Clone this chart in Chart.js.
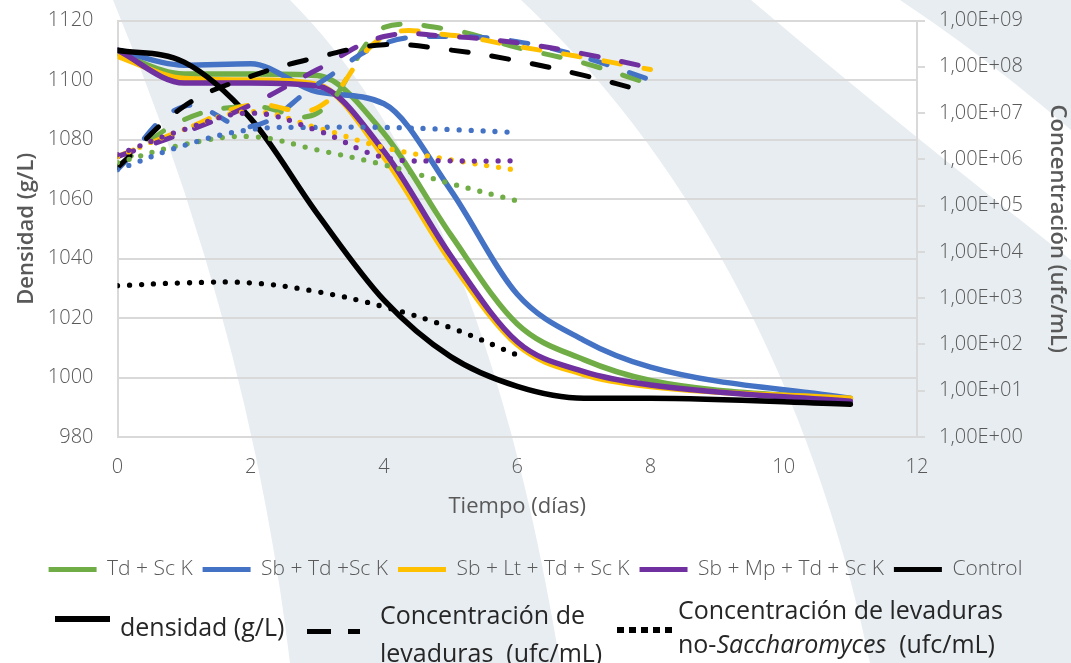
<!DOCTYPE html>
<html>
<head>
<meta charset="utf-8">
<script src="https://cdn.jsdelivr.net/npm/chart.js@4.4.1/dist/chart.umd.min.js"></script>
<style>
html,body{margin:0;padding:0;background:#fff;}
#wrap{position:relative;width:1071px;height:663px;overflow:hidden;}
#bg,#c{position:absolute;left:0;top:0;}
.t2{position:absolute;font-family:"Open Sans",sans-serif;font-weight:400;font-size:25px;line-height:25px;color:#262626;white-space:pre;}
.sw{position:absolute;background:#000;}
</style>
</head>
<body>
<div id="wrap">
<svg id="bg" width="1071" height="663">
  <path d="M113,0 L290,0 C400,110 500,300 560,663 L290,663 Q250,330 113,0 Z" fill="#e8edf1"/>
  <path d="M521,0 L751,0 Q880,110 1071,260 L1071,663 L870,663 C800,330 650,120 521,0 Z" fill="#e8edf1"/>
  <path d="M900,0 L1071,0 L1071,130 Q990,60 900,0 Z" fill="#e8edf1"/>
</svg>
<canvas id="c" width="1071" height="663"></canvas>
<div class="sw" style="left:55px;top:616px;width:55px;height:6px;"></div>
<div class="t2" style="left:120px;top:614px;">densidad (g/L)</div>
<div class="sw" style="left:307px;top:629px;width:24px;height:5px;"></div>
<div class="sw" style="left:348px;top:629px;width:12px;height:5px;"></div>
<div class="t2" style="left:380px;top:602px;">Concentración de</div>
<div class="t2" style="left:380px;top:640px;">levaduras  (ufc/mL)</div>
<div class="sw" style="left:617px;top:627px;width:7px;height:6px;"></div>
<div class="sw" style="left:629px;top:627px;width:7px;height:6px;"></div>
<div class="sw" style="left:641px;top:627px;width:7px;height:6px;"></div>
<div class="sw" style="left:653px;top:627px;width:7px;height:6px;"></div>
<div class="sw" style="left:665px;top:627px;width:7px;height:6px;"></div>
<div class="t2" style="left:678px;top:597px;">Concentración de levaduras</div>
<div class="t2" style="left:678px;top:631px;">no-<i>Saccharomyces</i>  (ufc/mL)</div>
</div>
<script>
// ---- data ----
const groups = ['Td + Sc K', 'Sb + Td +Sc K', 'Sb + Lt + Td + Sc K', 'Sb + Mp + Td + Sc K', 'Control'];
const colors = ['#70ad47', '#4472c4', '#ffc000', '#7030a0', '#000000'];

// density (g/L)
const densDays = [0, 1, 2, 3, 4, 5, 6, 7, 8, 11];
const densTdSc     = [1109, 1102, 1102, 1101.5, 1082, 1048, 1018, 1006, 999, 992.5];
const densSbTdSc   = [1110, 1105, 1105.5, 1096, 1092, 1063, 1028, 1012.5, 1003.5, 993];
const densSbLtTdSc = [1108, 1100.5, 1100, 1098.5, 1074, 1039, 1011, 1001, 997, 993];
const densSbMpTdSc = [1110, 1099, 1099, 1098, 1076, 1041, 1012, 1002, 997.5, 992];
const densControl  = [1110, 1106, 1087, 1055, 1026, 1007, 997, 993, 993, 991];

// yeast concentration (ufc/mL)
const concDays = [0, 1, 2, 3, 4, 5, 6, 7, 8];
const concTdSc     = [7.1e5, 7.2e6, 1.4e7, 1.0e7, 7.1e8, 6.3e8, 2.6e8, 1.2e8, 4.2e7];
const concSbTdSc   = [6.0e5, 1.4e7, 5.1e6, 4.2e7, 3.2e8, 4.5e8, 3.5e8, 1.6e8, 5.2e7];
const concSbLtTdSc = [1.15e6, 4.4e6, 1.5e7, 1.3e7, 4.5e8, 4.8e8, 2.75e8, 1.6e8, 8.7e7];
const concSbMpTdSc = [1.15e6, 3.8e6, 1.5e7, 8.7e7, 4.5e8, 4.5e8, 3.3e8, 1.9e8, 9.5e7];
const concControl  = [6.6e5, 1.4e7, 6.2e7, 1.6e8, 3.0e8, 2.3e8, 1.35e8, 6.5e7, 2.75e7];

// non-Saccharomyces concentration (ufc/mL)
const nsDays = [0, 1, 2, 3, 4, 5, 6];
const nsTdSc     = [8.5e5, 2.1e6, 3.1e6, 1.6e6, 7.6e5, 3.0e5, 1.26e5];
const nsSbTdSc   = [6.0e5, 2.0e6, 4.4e6, 4.9e6, 4.9e6, 4.4e6, 3.8e6];
const nsSbLtTdSc = [1.15e6, 4.4e6, 1.07e7, 4.8e6, 1.8e6, 9.8e5, 5.8e5];
const nsSbMpTdSc = [1.26e6, 4.4e6, 1.0e7, 4.2e6, 1.1e6, 9.3e5, 9.3e5];
const nsControl  = [1.86e3, 2.14e3, 2.14e3, 1.38e3, 6.5e2, 2.3e2, 59];

// axis ticks
const densTicks = [980, 1000, 1020, 1040, 1060, 1080, 1100, 1120];
const concTicks = [1e0, 1e1, 1e2, 1e3, 1e4, 1e5, 1e6, 1e7, 1e8, 1e9];
const dayTicks = [0, 2, 4, 6, 8, 10, 12];

// ---- build ----
const pts = (xs, ys) => xs.map((x, i) => ({x: x, y: ys[i]}));
const densSets = [densTdSc, densSbTdSc, densSbLtTdSc, densSbMpTdSc, densControl];
const concSets = [concTdSc, concSbTdSc, concSbLtTdSc, concSbMpTdSc, concControl];
const nsSets   = [nsTdSc, nsSbTdSc, nsSbLtTdSc, nsSbMpTdSc, nsControl];

const datasets = [];
densSets.forEach((d, i) => datasets.push({
  label: groups[i], data: pts(densDays, d), yAxisID: 'y',
  borderColor: colors[i], backgroundColor: colors[i], borderWidth: 5.5,
  pointRadius: 0, cubicInterpolationMode: 'monotone', borderCapStyle: 'round', order: 20 - i
}));
concSets.forEach((d, i) => datasets.push({
  label: groups[i] + ' conc', data: pts(concDays, d), yAxisID: 'y2',
  borderColor: colors[i], borderWidth: 5, borderDash: [17, 24], borderCapStyle: 'round',
  pointRadius: 0, tension: 0.4, order: 15 - i
}));
nsSets.forEach((d, i) => datasets.push({
  label: groups[i] + ' no-Sacch', data: pts(nsDays, d), yAxisID: 'y2',
  borderColor: colors[i], borderWidth: 5.3, borderDash: [0, 12], borderCapStyle: 'round',
  pointRadius: 0, tension: 0.4, order: 10 - i
}));

const gray = '#595959';
const tickFont = {family: '"Open Sans", sans-serif', size: 20, weight: '300'};
const titleFont = {family: '"Open Sans", sans-serif', size: 22, weight: '400'};
const yTitleFont = {family: '"Open Sans", sans-serif', size: 22, weight: '600'};

new Chart(document.getElementById('c'), {
  type: 'line',
  data: {datasets: datasets},
  options: {
    responsive: false, animation: false, devicePixelRatio: 1,
    layout: {padding: {top: 20.5, left: 0, right: 0, bottom: 73}},
    plugins: {
      tooltip: {enabled: false},
      legend: {
        position: 'bottom',
        labels: {
          boxWidth: 48, boxHeight: 5, padding: 10, color: gray,
          font: {family: '"Open Sans", sans-serif', size: 21, weight: '300'},
          useBorderRadius: true, borderRadius: 2.5,
          generateLabels: () => groups.map((g, i) => ({
            text: g, fillStyle: colors[i], strokeStyle: colors[i], lineWidth: 0,
            hidden: false, datasetIndex: i, fontColor: gray
          }))
        }
      }
    },
    scales: {
      x: {
        type: 'linear', min: 0, max: 12,
        afterBuildTicks: ax => { ax.ticks = dayTicks.map(v => ({value: v})); },
        ticks: {color: gray, font: tickFont, padding: 18, maxRotation: 0, callback: v => String(v)},
        grid: {display: false, drawTicks: false},
        border: {display: true, color: '#d9d9d9', width: 2},
        title: {display: true, text: 'Tiempo (días)', color: gray, font: titleFont, padding: {top: 0, bottom: 29}},
        afterFit: ax => { ax.height = 112; ax.paddingLeft = 0; ax.paddingRight = 0; }
      },
      y: {
        position: 'left', min: 980, max: 1120,
        afterBuildTicks: ax => { ax.ticks = densTicks.map(v => ({value: v})); },
        ticks: {color: gray, font: tickFont, padding: 24, callback: v => String(v)},
        grid: {color: '#d9d9d9', lineWidth: 2, drawTicks: false},
        border: {display: true, color: '#d9d9d9', width: 2},
        title: {display: true, text: 'Densidad (g/L)', color: gray, font: yTitleFont, padding: {top: 14, bottom: 0}},
        afterFit: ax => { ax.width = 117.5; ax.paddingTop = 0; ax.paddingBottom = 0; }
      },
      y2: {
        type: 'logarithmic', position: 'right', min: 1, max: 1e9,
        afterBuildTicks: ax => { ax.ticks = concTicks.map(v => ({value: v})); },
        ticks: {
          color: gray, font: tickFont, padding: 14,
          callback: v => '1,00E+' + String(Math.round(Math.log10(v))).padStart(2, '0')
        },
        grid: {drawOnChartArea: false, drawTicks: true, tickLength: 8, color: '#d9d9d9', lineWidth: 2},
        border: {display: true, color: '#d9d9d9', width: 2},
        title: {display: true, text: 'Concentración (ufc/mL)', color: gray, font: yTitleFont, padding: {top: 1, bottom: 0}},
        afterFit: ax => { ax.width = 154; ax.paddingTop = 0; ax.paddingBottom = 0; }
      }
    }
  }
});
</script>
</body>
</html>
